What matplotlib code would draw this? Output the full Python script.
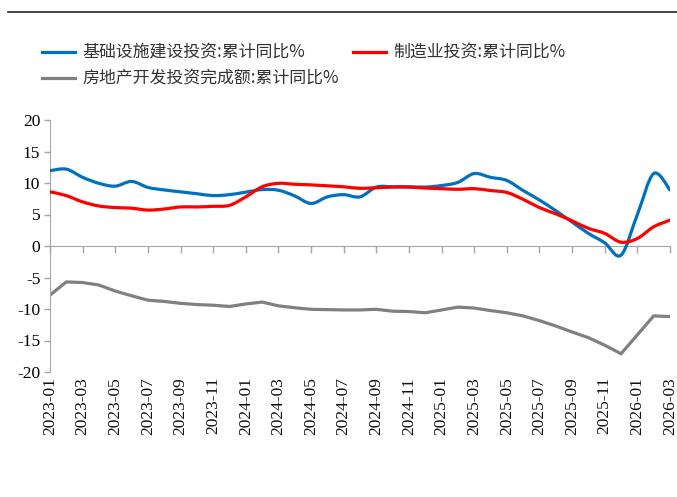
import numpy as np
import pandas as pd
import matplotlib
matplotlib.use("Agg")
import matplotlib.pyplot as plt
from matplotlib.path import Path
from matplotlib.patches import PathPatch
from matplotlib.lines import Line2D

months = [p.strftime("%Y-%m") for p in pd.period_range("2023-01", "2026-03", freq="M")]

# cumulative yoy, %
infra = [11.95, 12.2, 10.9, 9.95, 9.5, 10.25, 9.3, 8.9, 8.6, 8.3, 8.0, 8.15,
         8.55, 8.95, 8.85, 7.95, 6.75, 7.8, 8.15, 7.8, 9.35, 9.4, 9.4, 9.35,
         9.6, 10.1, 11.5, 10.9, 10.4, 8.8, 7.3, 5.6, 3.8, 2.0, 0.5, -1.45,
         5.0, 11.5, 8.9]
manuf = [8.6, 8.0, 7.0, 6.35, 6.1, 6.0, 5.7, 5.87, 6.2, 6.2, 6.3, 6.45,
         7.8, 9.4, 9.95, 9.8, 9.7, 9.55, 9.4, 9.15, 9.25, 9.35, 9.35, 9.2,
         9.1, 9.0, 9.1, 8.8, 8.5, 7.4, 6.1, 5.1, 4.0, 2.8, 2.0, 0.6,
         1.2, 3.05, 4.1]
estate = [-7.8, -5.7, -5.8, -6.2, -7.15, -7.9, -8.6, -8.8, -9.1, -9.3, -9.4, -9.6,
          -9.2, -8.9, -9.5, -9.8, -10.05, -10.1, -10.15, -10.15, -10.05, -10.35, -10.4, -10.6,
          -10.15, -9.7, -9.85, -10.25, -10.6, -11.1, -11.85, -12.7, -13.65, -14.55, -15.75, -17.1,
          -14.1, -11.1, -11.2]

names = ["基础设施建设投资:累计同比%", "制造业投资:累计同比%", "房地产开发投资完成额:累计同比%"]
colors = ["#0070C0", "#FF0000", "#808080"]


def smooth_path(y):
    # excel-like smoothed line: cubic bezier through every point
    x = np.arange(len(y), dtype=float)
    y = np.asarray(y, dtype=float)
    pts = np.column_stack([x, y])
    verts = [pts[0]]
    codes = [Path.MOVETO]
    n = len(pts)
    for i in range(n - 1):
        p0 = pts[max(i - 1, 0)]
        p1 = pts[i]
        p2 = pts[i + 1]
        p3 = pts[min(i + 2, n - 1)]
        verts += [p1 + (p2 - p0) / 6, p2 - (p3 - p1) / 6, p2]
        codes += [Path.CURVE4] * 3
    return Path(verts, codes)


fig = plt.figure(figsize=(6.77, 4.97), dpi=100)
ax = fig.add_axes([50 / 677, 1 - 372 / 497, 620 / 677, 252 / 497])

ax.add_patch(PathPatch(smooth_path(infra), fill=False, edgecolor=colors[0], lw=2.3,
                       capstyle="round", joinstyle="round", zorder=3))
ax.add_patch(PathPatch(smooth_path(manuf), fill=False, edgecolor=colors[1], lw=2.3,
                       capstyle="round", joinstyle="round", zorder=4))
ax.plot(range(len(estate)), estate, color=colors[2], lw=2.3, solid_joinstyle="miter", zorder=2)

ax.set_xlim(0, len(months) - 1)
ax.set_ylim(-20, 20)

for s in ["top", "right"]:
    ax.spines[s].set_visible(False)
ax.spines["left"].set_color("#A6A6A6")
ax.spines["bottom"].set_color("#A6A6A6")
ax.spines["bottom"].set_position(("data", 0))

ax.set_yticks(range(-20, 21, 5))
ax.set_yticklabels([str(v) for v in range(-20, 21, 5)], family="Liberation Serif", fontsize=12.5)
ax.tick_params(axis="y", direction="out", length=4, width=1, colors="#A6A6A6", labelcolor="black", pad=3)

ax.set_xticks(range(0, len(months), 2))
ax.tick_params(axis="x", direction="out", length=5, width=1, colors="#A6A6A6", labelbottom=False)
for i in range(0, len(months), 2):
    ax.text(i, -0.02, months[i], transform=ax.get_xaxis_transform(), rotation=90,
            ha="center", va="top", family="Liberation Serif", fontsize=12.5, color="#111111")

# legend drawn by hand to keep the two-row layout
cjk = ["Noto Sans CJK SC", "DejaVu Sans"]
leg = [(42, 52, 0), (353, 52, 1), (42, 78, 2)]
for x0, y0, k in leg:
    fy = 1 - y0 / 497
    fig.add_artist(Line2D([x0 / 677, (x0 + 33) / 677], [fy, fy], color=colors[k], lw=2.3,
                          transform=fig.transFigure))
    fig.text((x0 + 40) / 677, fy, names[k], family=cjk, fontsize=12.2, va="center", ha="left",
             color="#333333")

# header rule
fig.add_artist(Line2D([8 / 677, 1.0], [1 - 12 / 497, 1 - 12 / 497], color="#222222", lw=1.2,
                      transform=fig.transFigure))

fig.savefig("out.png", dpi=100)
